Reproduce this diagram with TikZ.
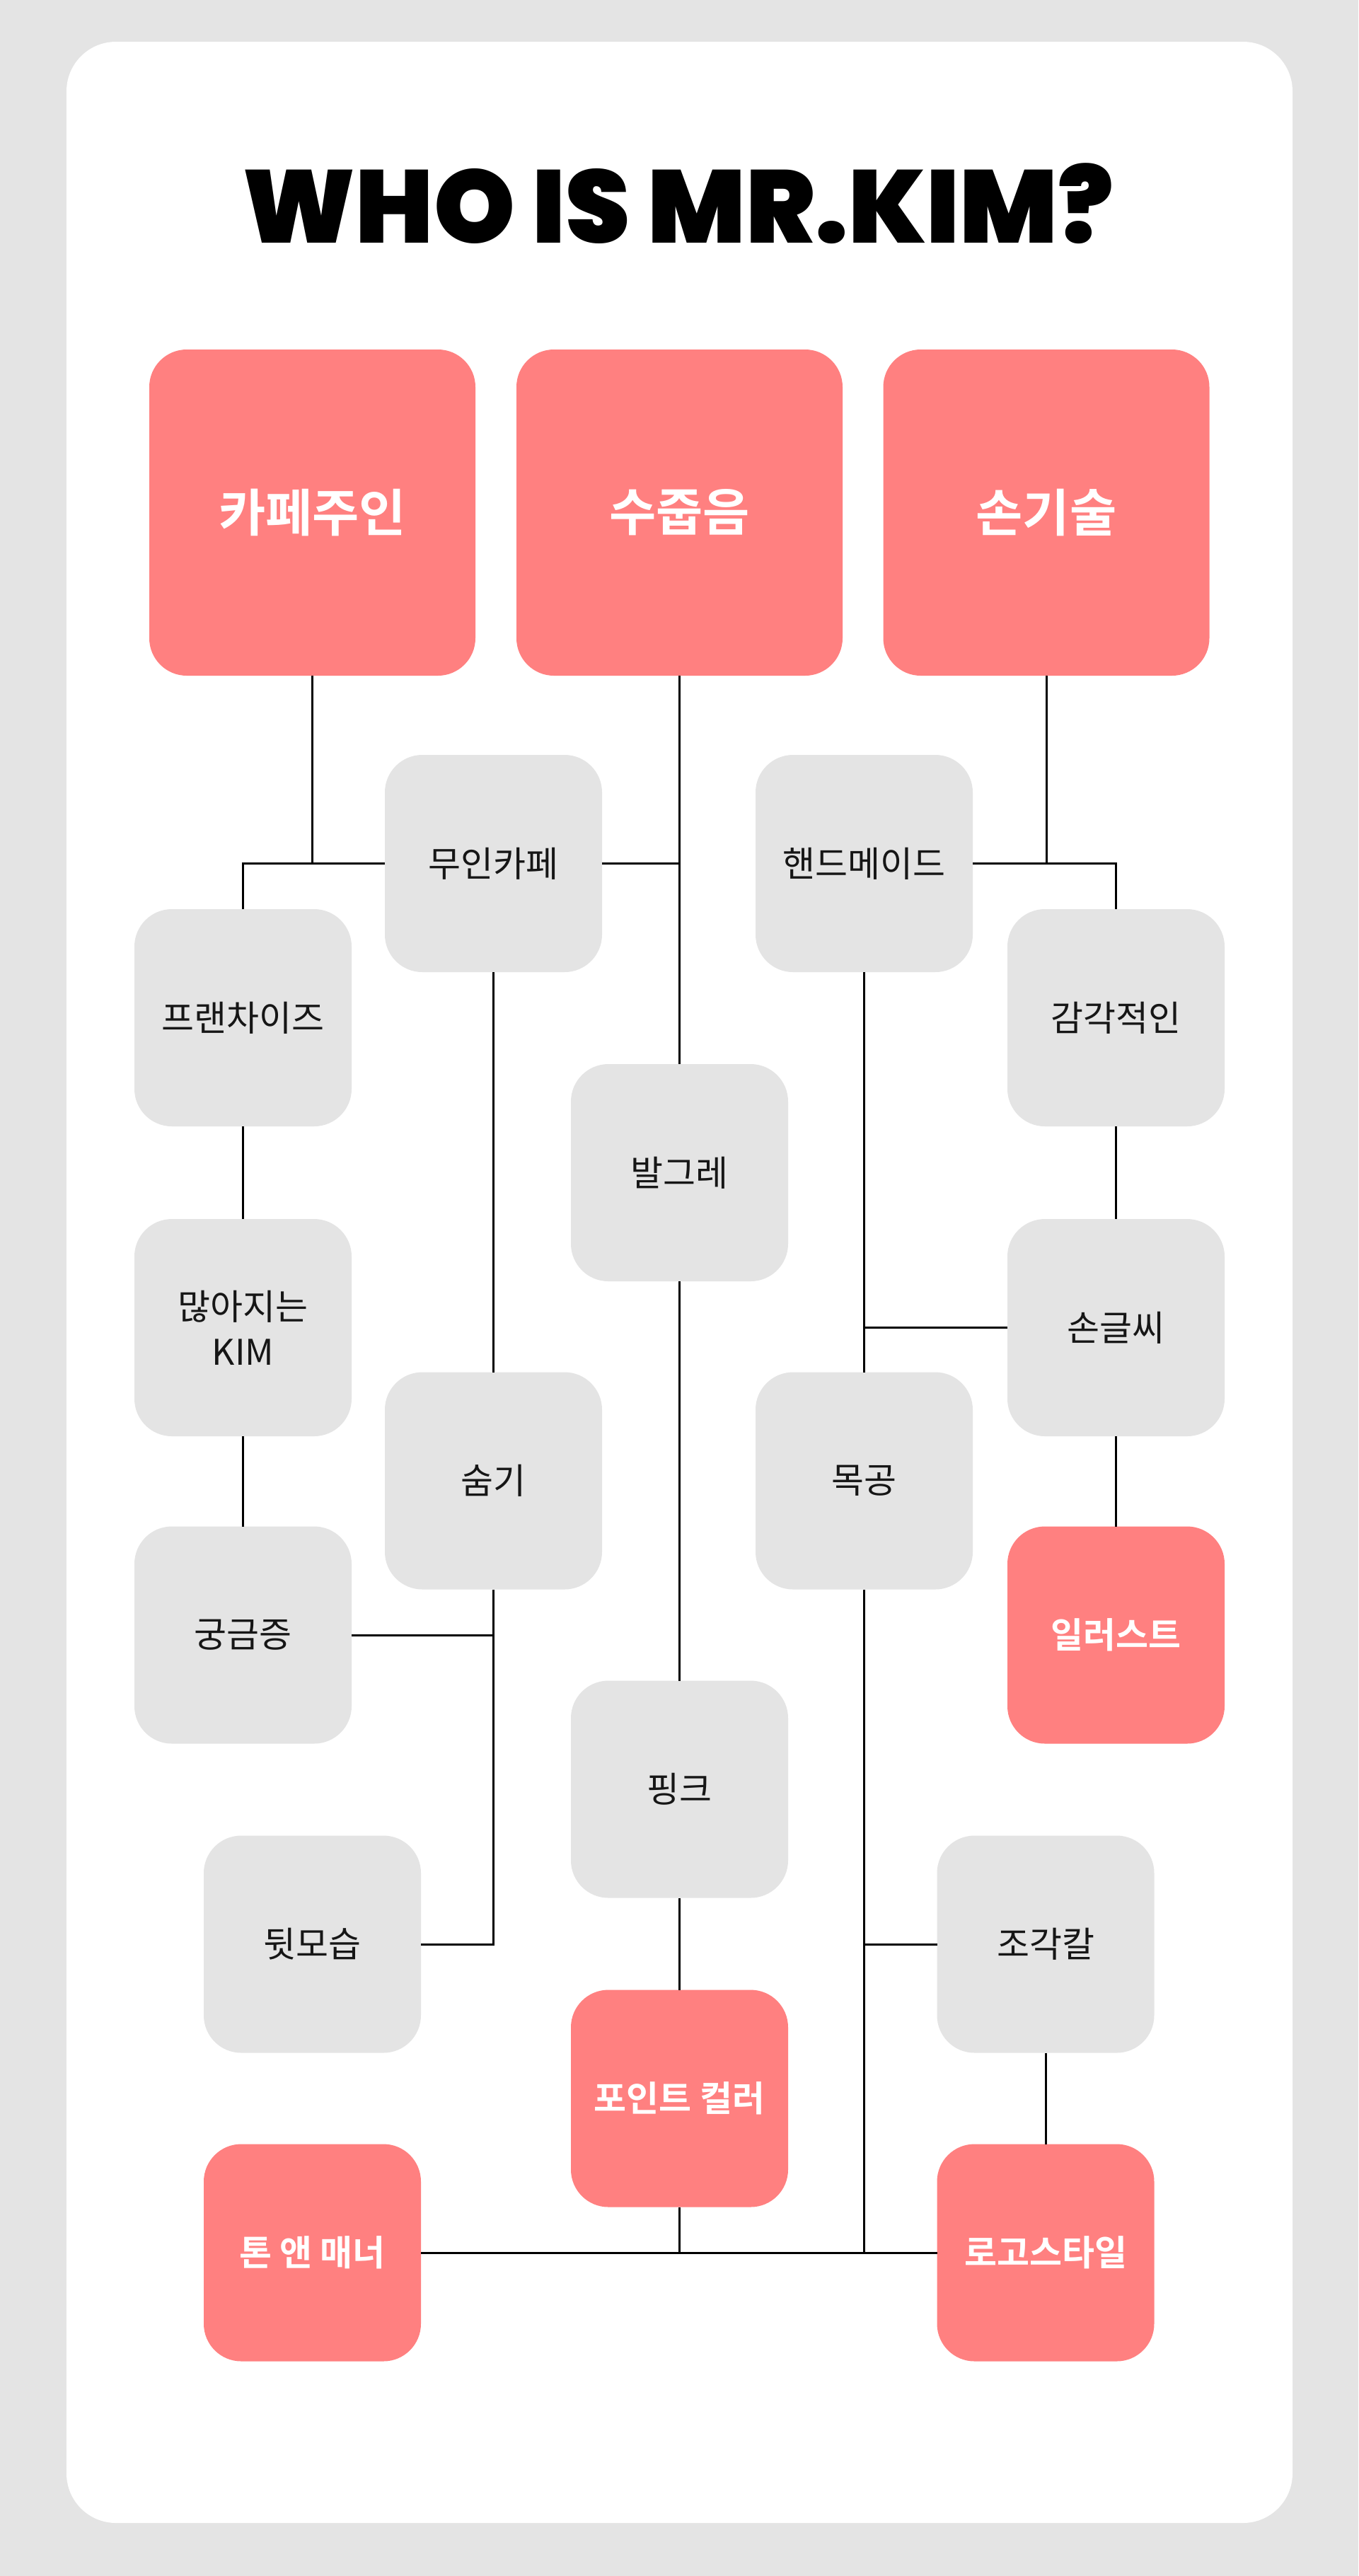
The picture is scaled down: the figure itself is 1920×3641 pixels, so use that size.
\documentclass[tikz,border=0pt]{standalone}
\usepackage{fontspec}
\setmainfont{Noto Sans CJK KR}[BoldFont={Noto Sans CJK KR Bold}]
\newfontfamily\titlefont{Poppins}[BoldFont={* Black}]
\definecolor{kimpink}{HTML}{FF8080}
\definecolor{kimgray}{HTML}{E4E4E4}
\definecolor{kimink}{HTML}{161616}
\begin{document}
\begin{tikzpicture}[x=1pt, y=-1pt,
		box/.style={rectangle, rounded corners=53pt, fill=kimgray, text=kimink,
			minimum width=307pt, minimum height=307pt, inner sep=0pt, outer sep=0pt,
			align=center, font=\fontsize{50}{64}\selectfont},
		pinkbox/.style={box, fill=kimpink, text=white, font=\fontsize{50}{64}\selectfont\bfseries},
		topbox/.style={box, fill=kimpink, text=white, minimum width=461pt, minimum height=461pt,
			font=\fontsize{72}{86}\selectfont\bfseries},
		link/.style={draw=black, line width=3pt}
	]
	\fill[kimgray] (0,0) rectangle (1920,3641);
	\fill[white, rounded corners=70pt] (94,59) rectangle (1827,3566);
	\node (title) at (958,288) {\titlefont\bfseries\fontsize{146}{146}\selectfont WHO IS MR.KIM?};

	% top row
	\node[topbox] (cafeowner) at (441.5,724.5) {카페주인};
	\node[topbox] (shy) at (960.5,724.5) {수줍음};
	\node[topbox] (craft) at (1479,724.5) {손기술};

	% left side
	\node[box] (nocafe) at (697.5,1220.5) {무인카페};
	\node[box] (franchise) at (343.5,1438.5) {프랜차이즈};
	\node[box] (morekim) at (343.5,1876.5) {많아지는\\KIM};
	\node[box] (hide) at (697.5,2093) {숨기};
	\node[box] (curious) at (343.5,2311) {궁금증};
	\node[box] (back) at (441.5,2748) {뒷모습};
	\node[pinkbox] (tone) at (441.5,3184) {톤 앤 매너};

	% middle
	\node[box] (blush) at (960.5,1657.5) {발그레};
	\node[box] (pink) at (960.5,2529) {핑크};
	\node[pinkbox] (point) at (960.5,2966) {포인트 컬러};

	% right side
	\node[box] (handmade) at (1221.5,1220.5) {핸드메이드};
	\node[box] (sense) at (1577.5,1438.5) {감각적인};
	\node[box] (letter) at (1577.5,1876.5) {손글씨};
	\node[box] (wood) at (1221.5,2093) {목공};
	\node[pinkbox] (illust) at (1577.5,2311) {일러스트};
	\node[box] (knife) at (1478,2748) {조각칼};
	\node[pinkbox] (logo) at (1478,3184) {로고스타일};

	% connectors
	\draw[link] (cafeowner.south) |- (nocafe.west);
	\draw[link] (franchise.north) |- (nocafe.west);
	\draw[link] (nocafe.east) -- (nocafe.east -| shy.south);
	\draw[link] (franchise.south) -- (morekim.north);
	\draw[link] (morekim.south) -- (curious.north);
	\draw[link] (nocafe.south) -- (hide.north);
	\draw[link] (hide.south) |- (back.east);
	\draw[link] (curious.east) -- (curious.east -| hide.south);

	\draw[link] (shy.south) -- (blush.north);
	\draw[link] (blush.south) -- (pink.north);
	\draw[link] (pink.south) -- (point.north);
	\draw[link] (point.south) -- (point.south |- tone.east);
	\draw[link] (tone.east) -- (logo.west);

	\draw[link] (craft.south) |- (handmade.east);
	\draw[link] (sense.north) |- (handmade.east);
	\draw[link] (sense.south) -- (letter.north);
	\draw[link] (letter.south) -- (illust.north);
	\draw[link] (letter.west) -- (letter.west -| handmade.south);
	\draw[link] (handmade.south) -- (wood.north);
	\draw[link] (wood.south) -- (wood.south |- logo.west);
	\draw[link] (knife.west) -- (knife.west -| wood.south);
	\draw[link] (knife.south) -- (logo.north);
\end{tikzpicture}
\end{document}
